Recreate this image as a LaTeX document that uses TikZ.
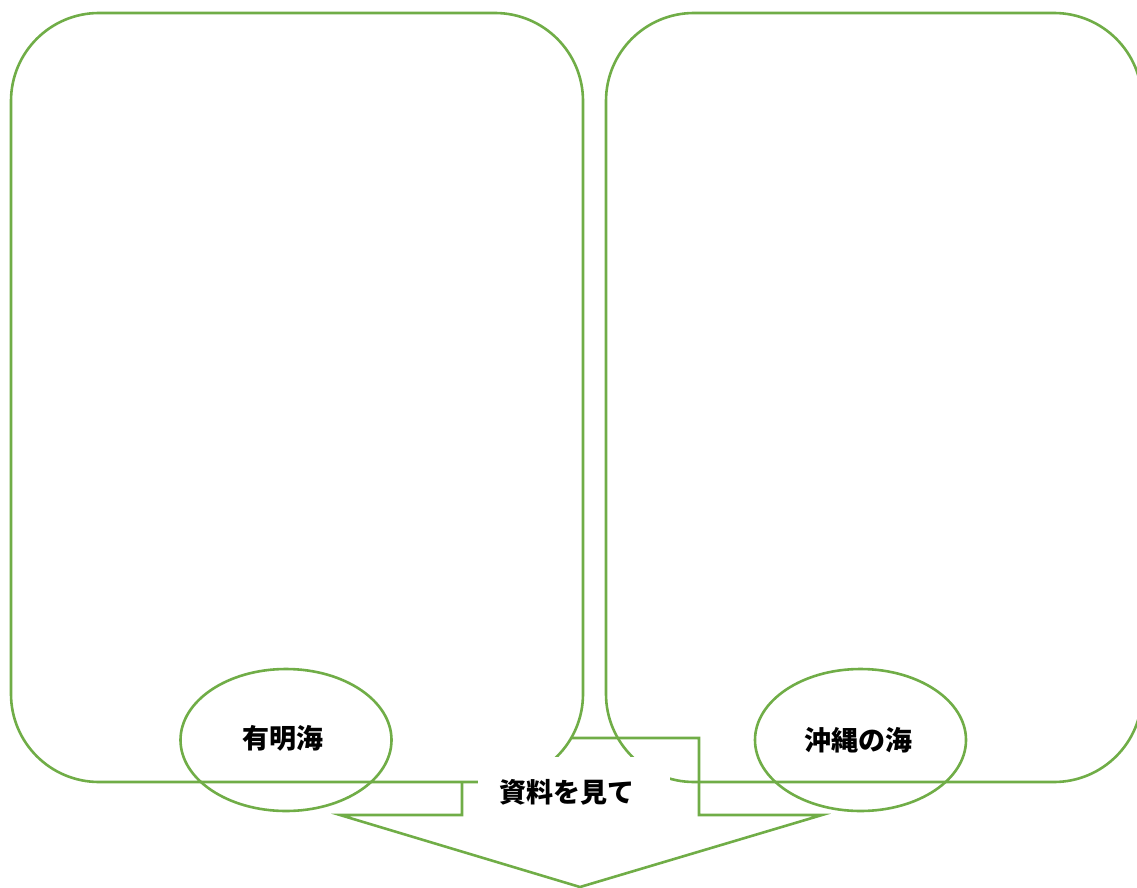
\documentclass[tikz,border=0pt]{standalone}
\usepackage{fontspec}
\newfontfamily\jp{Noto Sans CJK JP}
\usetikzlibrary{shapes.geometric}
\definecolor{grn}{HTML}{70AD47}
\tikzset{
  panel/.style={draw=grn, line width=2.6pt, rounded corners=88pt},
  oval/.style={ellipse, draw=grn, line width=2.6pt, minimum width=211pt, minimum height=142pt, inner sep=0pt},
  lbl/.style={font=\jp\bfseries\fontsize{27}{32}\selectfont, text=black, inner sep=0pt},
  arrowshape/.style={draw=grn, line width=2.6pt, line join=miter}
}
\begin{document}
\begin{tikzpicture}[x=1pt,y=-1pt]
\useasboundingbox (0,0) rectangle (1137,888);
% right panel (unfilled)
\draw[panel] (606,13) rectangle (1142,782);
% arrow outline
\coordinate (a1) at (462,738);
\coordinate (a2) at (699,738);
\coordinate (a3) at (699,815);
\coordinate (a4) at (822,815);
\coordinate (a5) at (580,887);
\coordinate (a6) at (340,815);
\coordinate (a7) at (462,815);
\draw[arrowshape] (a1) -- (a2) -- (a3) -- (a4) -- (a5) -- (a6) -- (a7) -- cycle;
% left panel (white fill, on top of arrow)
\draw[panel, fill=white] (11,13) rectangle (583,782);
% ovals
\node[oval] (o1) at (286,740) {};
\node[oval] (o2) at (860.5,740) {};
% text box
\node[fill=white, minimum width=192pt, minimum height=55pt, inner sep=0pt] (tb) at (574,784.5) {};
% labels
\node[lbl] (t1) at (283,738) {有明海};
\node[lbl] (t2) at (858,740) {沖縄の海};
\node[lbl] (t3) at (567,792) {資料を見て};
\end{tikzpicture}
\end{document}
